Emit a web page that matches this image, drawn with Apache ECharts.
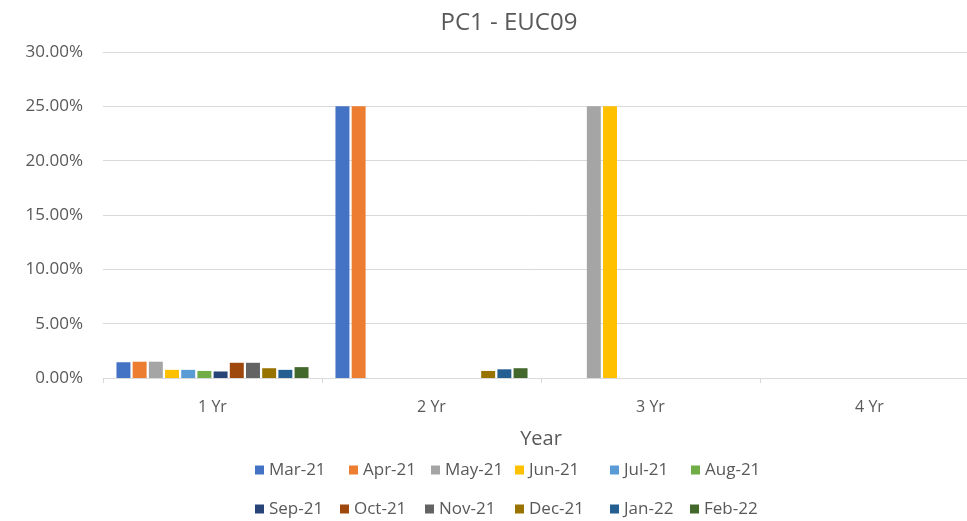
<!DOCTYPE html>
<html>
<head>
<meta charset="utf-8">
<script src="https://cdn.jsdelivr.net/npm/echarts@6/dist/echarts.min.js"></script>
<style>html,body{margin:0;padding:0;background:#fff}#c{width:967px;height:521px}</style>
</head>
<body>
<div id="c"></div>
<script>
var categories = ['1 Yr', '2 Yr', '3 Yr', '4 Yr'];
var seriesNames = ['Mar-21','Apr-21','May-21','Jun-21','Jul-21','Aug-21','Sep-21','Oct-21','Nov-21','Dec-21','Jan-22','Feb-22'];
var mar21 = [1.45, 25, 0, 0];
var apr21 = [1.5, 25, 0, 0];
var may21 = [1.5, 0, 25, 0];
var jun21 = [0.75, 0, 25, 0];
var jul21 = [0.75, 0, 0, 0];
var aug21 = [0.65, 0, 0, 0];
var sep21 = [0.6, 0, 0, 0];
var oct21 = [1.4, 0, 0, 0];
var nov21 = [1.4, 0, 0, 0];
var dec21 = [0.9, 0.65, 0, 0];
var jan22 = [0.75, 0.8, 0, 0];
var feb22 = [1.0, 0.9, 0, 0];
var yTicks = [0, 5, 10, 15, 20, 25, 30];

var allValues = [mar21, apr21, may21, jun21, jul21, aug21, sep21, oct21, nov21, dec21, jan22, feb22];
var colors = ['#4472C4','#ED7D31','#A5A5A5','#FFC000','#5B9BD5','#70AD47','#264478','#9E480E','#636363','#997300','#255E91','#43682B'];
var legendLeft = [[255, 349, 431, 515, 610, 691], [255, 340, 425, 515, 610, 690]];
var legendTop = [460, 499];
var font = '"Open Sans", "Liberation Sans", sans-serif';
var textColor = '#595959';

var series = seriesNames.map(function (n, i) {
  return {
    name: n, type: 'bar', data: allValues[i],
    itemStyle: { color: colors[i] },
    barGap: '16%', barCategoryGap: '12.3%'
  };
});

var legends = seriesNames.map(function (n, i) {
  var r = Math.floor(i / 6);
  return {
    data: [n],
    left: legendLeft[r][i % 6],
    top: legendTop[r],
    icon: 'rect', itemWidth: 9, itemHeight: 9, itemGap: 0,
    padding: 0,
    textStyle: { color: textColor, fontSize: 17, lineHeight: 20, fontFamily: font },
    selectedMode: false
  };
});

var chart = echarts.init(document.getElementById('c'));
chart.setOption({
  animation: false,
  backgroundColor: '#fff',
  title: {
    text: 'PC1 - EUC09', left: 504, top: 6, textAlign: 'center',
    textStyle: { color: textColor, fontSize: 24, fontWeight: 'normal', fontFamily: font }
  },
  legend: legends,
  grid: { left: 103, width: 876, top: 52, bottom: 143, outerBoundsMode: 'none', containLabel: false },
  xAxis: {
    type: 'category', data: categories,
    name: 'Year', nameLocation: 'middle', nameGap: 51,
    nameTextStyle: { color: textColor, fontSize: 20, fontFamily: font },
    axisLine: { lineStyle: { color: '#d9d9d9' } },
    axisTick: { show: true, length: 5, lineStyle: { color: '#d9d9d9' } },
    axisLabel: { color: textColor, fontSize: 16, fontFamily: font, margin: 21 }
  },
  yAxis: {
    type: 'value', min: yTicks[0], max: yTicks[yTicks.length - 1], interval: yTicks[1] - yTicks[0],
    axisLine: { show: false }, axisTick: { show: false },
    splitLine: { lineStyle: { color: '#d9d9d9' } },
    axisLabel: { color: textColor, fontSize: 17, fontFamily: font, margin: 20,
      formatter: function (v) { return v.toFixed(2) + '%'; } }
  },
  series: series
});
</script>
</body>
</html>
